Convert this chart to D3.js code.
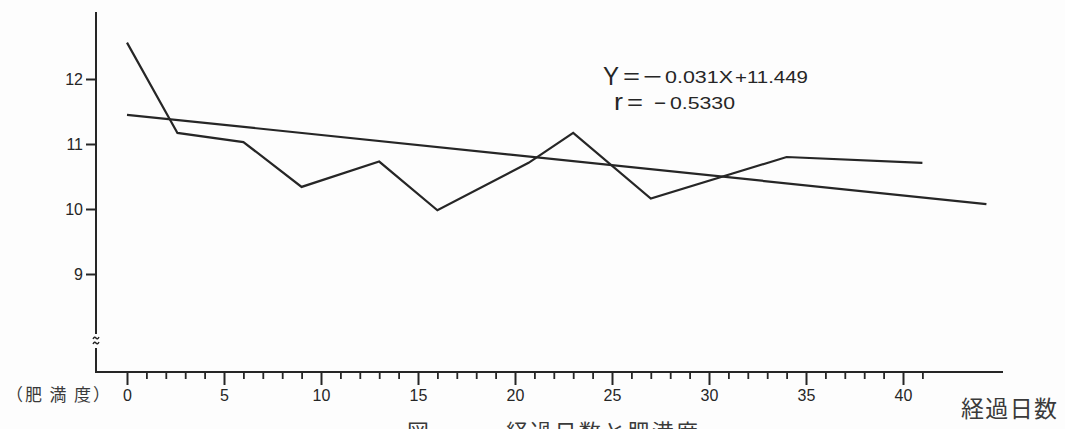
<!DOCTYPE html>
<html>
<head>
<meta charset="utf-8">
<script src="https://cdn.jsdelivr.net/npm/d3@7"></script>
<style>
  html, body { margin: 0; padding: 0; background: #fdfdfd; }
  svg { display: block; }
  .num { font-family: "Liberation Sans", Arial, sans-serif; fill: #262626; }
  .jp { font-family: "Noto Sans CJK JP", sans-serif; fill: #3a3a3a; }
</style>
</head>
<body>
<svg id="chart" width="1065" height="429"></svg>
<script>
// Elapsed days and obesity index (肥満度) measurements
const days    = [0, 2.6, 6, 9, 13, 16, 20.7, 23, 27, 34, 41];
const obesity = [12.56, 11.17, 11.03, 10.34, 10.73, 9.98, 10.71, 11.17, 10.16, 10.80, 10.71];

// Linear regression fitted to the series
const regSlope = -0.031;
const regIntercept = 11.449;
const regR = -0.5330;
const regDayRange = [0, 44.3];

// Tick values
const yTicks = [9, 10, 11, 12];
const xMajorTicks = [0, 5, 10, 15, 20, 25, 30, 35, 40];
const xMinorTicks = d3.range(0, 42);

const ink = "#262626";
const svg = d3.select("#chart");

const x = d3.scaleLinear().domain([0, 40]).range([127, 903]);
const y = d3.scaleLinear().domain([9, 12]).range([274, 79]);

const axisX = 96, axisTop = 12, baseY = 372, axisRight = 1003;

// Vertical axis with a break near the bottom
svg.append("line").attr("x1", axisX).attr("x2", axisX).attr("y1", axisTop).attr("y2", 334)
  .attr("stroke", ink).attr("stroke-width", 2);
svg.append("line").attr("x1", axisX).attr("x2", axisX).attr("y1", 348).attr("y2", baseY + 1)
  .attr("stroke", ink).attr("stroke-width", 2);
[338, 343].forEach(yy => {
  svg.append("path")
    .attr("d", `M${axisX - 3},${yy + 1} q1.5,-3 3,-1 t3,-1`)
    .attr("fill", "none").attr("stroke", ink).attr("stroke-width", 1.4);
});

// Y axis ticks and labels
const yAxis = d3.axisLeft(y).tickValues(yTicks).tickSize(10).tickPadding(3).tickFormat(d3.format("d"));
const gy = svg.append("g").attr("transform", `translate(${axisX},0)`).call(yAxis);
gy.select(".domain").remove();
gy.selectAll(".tick line").attr("stroke", ink).attr("stroke-width", 2);
gy.selectAll(".tick text").attr("class", "num").attr("font-size", 16).attr("fill", ink);

// Horizontal axis
svg.append("line").attr("x1", axisX - 1).attr("x2", axisRight).attr("y1", baseY).attr("y2", baseY)
  .attr("stroke", ink).attr("stroke-width", 2);

const gxMinor = svg.append("g").attr("transform", `translate(0,${baseY})`)
  .call(d3.axisBottom(x).tickValues(xMinorTicks.filter(d => d % 5 !== 0)).tickSize(7).tickFormat(""));
gxMinor.select(".domain").remove();
gxMinor.selectAll(".tick line").attr("stroke", ink).attr("stroke-width", 1.8);

const gxMajor = svg.append("g").attr("transform", `translate(0,${baseY})`)
  .call(d3.axisBottom(x).tickValues(xMajorTicks).tickSize(13).tickPadding(5).tickFormat(d3.format("d")));
gxMajor.select(".domain").remove();
gxMajor.selectAll(".tick line").attr("stroke", ink).attr("stroke-width", 2);
gxMajor.selectAll(".tick text").attr("class", "num").attr("font-size", 16).attr("fill", ink);

// Axis titles
svg.append("text").attr("class", "jp").attr("x", 6).attr("y", 401)
  .attr("font-size", 17).attr("textLength", 104).attr("lengthAdjust", "spacing").text("（肥 満 度）");
svg.append("text").attr("class", "jp").attr("x", 961).attr("y", 417)
  .attr("font-size", 23).attr("textLength", 96).attr("lengthAdjust", "spacing").text("経過日数");

// Figure caption, partly below the page edge
svg.append("text").attr("class", "jp").attr("x", 407).attr("y", 440)
  .attr("font-size", 22).text("図 －");
svg.append("text").attr("class", "jp").attr("x", 506).attr("y", 440)
  .attr("font-size", 22).attr("textLength", 192).attr("lengthAdjust", "spacing").text("経過日数と肥満度");

// Regression line
const regPts = regDayRange.map(d => [d, regIntercept + regSlope * d]);
svg.append("path")
  .attr("d", d3.line().x(d => x(d[0])).y(d => y(d[1]))(regPts))
  .attr("fill", "none").attr("stroke", ink).attr("stroke-width", 2.2);

// Observed series
const series = days.map((d, i) => [d, obesity[i]]);
svg.append("path")
  .attr("d", d3.line().x(d => x(d[0])).y(d => y(d[1]))(series))
  .attr("fill", "none").attr("stroke", ink).attr("stroke-width", 2.2).attr("stroke-linejoin", "miter");

// Regression equation and correlation coefficient
const fmt3 = d3.format(".3f"), fmt4 = d3.format(".4f");
const eq = svg.append("g").attr("class", "num").attr("fill", ink);
function piece(txt, x0, yb, size, len) {
  eq.append("text").attr("x", x0).attr("y", yb).attr("font-size", size)
    .attr("textLength", len).attr("lengthAdjust", "spacingAndGlyphs").text(txt);
}
piece("Y", 603, 85, 26, 16);
piece("=", 623, 84, 22, 17);
piece("−", 643, 84, 22, 19);
piece(fmt3(Math.abs(regSlope)) + "X", 665, 83, 16, 68);
piece("+" + fmt3(regIntercept), 735, 83, 16, 73);
piece("r", 614, 110, 24, 9);
piece("=", 627, 110, 22, 16);
piece("−", 654, 109, 18, 12);
piece(fmt4(Math.abs(regR)), 670, 109, 16, 65);
</script>
</body>
</html>
